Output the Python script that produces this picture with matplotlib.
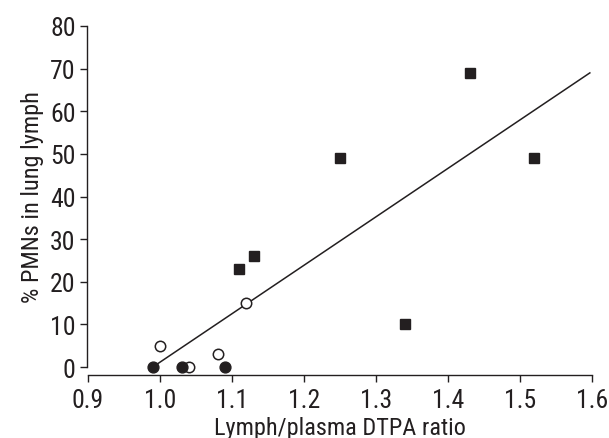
import matplotlib
matplotlib.use('Agg')
import matplotlib.pyplot as plt
from matplotlib import font_manager

# lymph/plasma DTPA ratio vs % PMNs, three groups
sq_x = [1.11, 1.13, 1.25, 1.34, 1.43, 1.52]
sq_y = [23, 26, 49, 10, 69, 49]
open_x = [1.00, 1.04, 1.08, 1.12]
open_y = [5, 0, 3, 15]
filled_x = [0.99, 1.03, 1.09]
filled_y = [0, 0, 0]
fit_x = [0.99, 1.597]
fit_y = [0, 69]

xticks = [0.9, 1.0, 1.1, 1.2, 1.3, 1.4, 1.5, 1.6]
yticks = [0, 10, 20, 30, 40, 50, 60, 70, 80]

names = {f.name for f in font_manager.fontManager.ttflist}
prefs = ['Roboto Condensed', 'PT Sans Narrow', 'Archivo Narrow',
         'Liberation Sans Narrow', 'Barlow Semi Condensed', 'DejaVu Sans']
fam = next(n for n in prefs if n in names or n == 'DejaVu Sans')
plt.rcParams['font.family'] = [fam, 'DejaVu Sans']

ink = '#231f20'
fig = plt.figure(figsize=(6.09, 4.39), dpi=100)
ax = fig.add_axes([0.1445, 0.1617, 0.8276, 0.7768])

ax.plot(fit_x, fit_y, color=ink, lw=1.1, zorder=1)
ax.plot(sq_x, sq_y, 's', color=ink, ms=7.8, zorder=3, clip_on=False)
ax.plot(open_x, open_y, 'o', mfc='white', mec=ink, mew=1.1, ms=7.5,
        zorder=3, clip_on=False)
ax.plot(filled_x, filled_y, 'o', color=ink, ms=7.8, zorder=4, clip_on=False)

ax.set_xlim(0.9, 1.6)
ax.set_ylim(0, 80)
ax.set_xticks(xticks)
ax.set_xticklabels([f'{v:.1f}' for v in xticks])
ax.set_yticks(yticks)

ax.spines['top'].set_visible(False)
ax.spines['right'].set_visible(False)
ax.spines['bottom'].set_position(('outward', 5.5))
ax.spines['left'].set_position(('outward', 0.5))
for s in ('left', 'bottom'):
    ax.spines[s].set_linewidth(1.0)
    ax.spines[s].set_color(ink)
ax.tick_params(axis='both', length=5, width=1.0, colors=ink,
               labelsize=18.5, labelcolor=ink)
ax.tick_params(axis='x', pad=4.5)
ax.tick_params(axis='y', pad=3.5)

ax.set_xlabel('Lymph/plasma DTPA ratio', fontsize=17.5, color=ink, labelpad=3)
ax.set_ylabel('% PMNs in lung lymph', fontsize=17.5, color=ink, labelpad=4)

fig.savefig('out.png', dpi=100)
